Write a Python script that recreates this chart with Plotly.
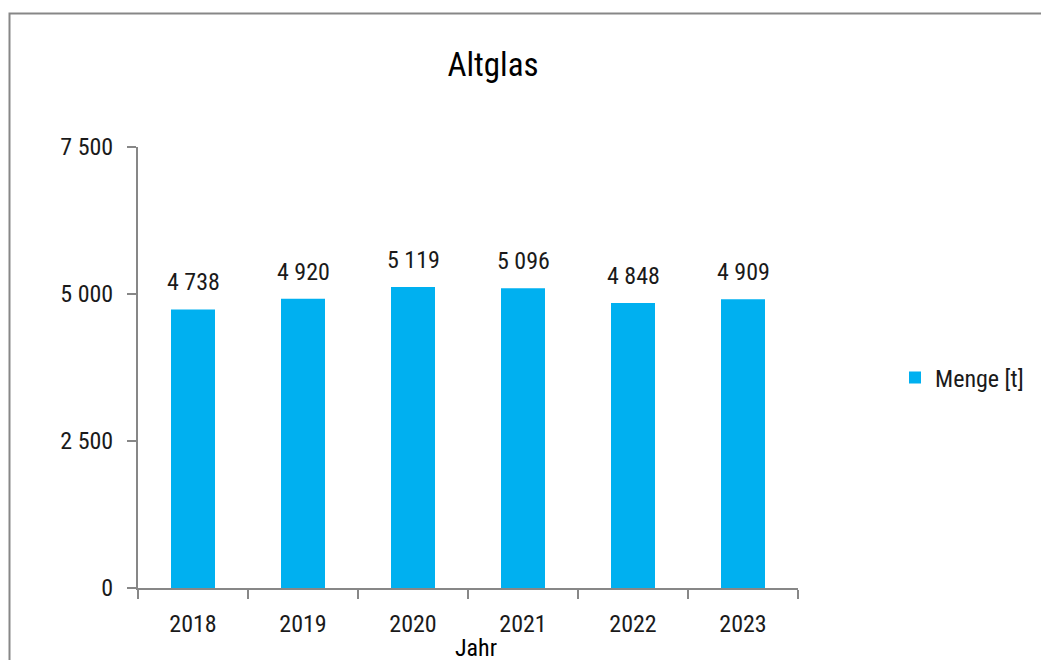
import plotly.graph_objects as go

years = ["2018", "2019", "2020", "2021", "2022", "2023"]
menge = [4738, 4920, 5119, 5096, 4848, 4909]
y_ticks = [0, 2500, 5000, 7500]

FONT = "Roboto Condensed, Liberation Sans Narrow, sans-serif"
BAR = "#00B0F0"
AXIS = "#878787"
TXT = "#1a1a1a"

W, H = 1041, 660
L, R, T, B = 138, 798, 147, 588

def px(sx):
    return (sx - L) / (R - L)

def py(sy):
    return (B - sy) / (B - T)

fig = go.Figure()
fig.add_trace(go.Bar(
    x=years, y=menge, name="Menge [t]",
    marker=dict(color=BAR, line=dict(width=0)),
    width=0.4,
    hoverinfo="skip",
))

annotations = []
for i, v in enumerate(menge):
    annotations.append(dict(
        x=i, y=v, xref="x", yref="y",
        text=f"{v:,}".replace(",", " "),
        showarrow=False, yanchor="bottom", yshift=11,
        font=dict(family=FONT, size=24, color=TXT),
    ))
annotations.append(dict(
    x=px(476), y=py(648), xref="paper", yref="paper",
    text="Jahr", showarrow=False, xanchor="center", yanchor="middle",
    font=dict(family=FONT, size=24, color="#000000"),
))

fig.update_layout(
    width=W, height=H,
    margin=dict(l=L, r=W - R, t=T, b=H - B, pad=0, autoexpand=False),
    paper_bgcolor="white", plot_bgcolor="white",
    separators=", ",
    font=dict(family=FONT, size=24, color=TXT),
    title=dict(text="Altglas", x=493 / W, xref="container", xanchor="center",
               y=1 - 64 / H, yanchor="middle", yref="container",
               font=dict(family=FONT, size=33, color="#000000")),
    showlegend=True,
    legend=dict(x=895 / W, y=1 - 378 / H, xref="container", yref="container",
                xanchor="left", yanchor="middle",
                font=dict(family=FONT, size=24, color=TXT),
                bgcolor="rgba(0,0,0,0)"),
    annotations=annotations,
    xaxis=dict(
        type="category", range=[-0.5, len(years) - 0.5],
        showgrid=False, zeroline=False,
        showline=True, linecolor=AXIS, linewidth=2,
        ticks="outside", ticklen=9, tickcolor=AXIS, tickwidth=2,
        tickson="boundaries", ticklabelstandoff=13, tickangle=0,
        tickfont=dict(family=FONT, size=24, color=TXT),
    ),
    yaxis=dict(
        range=[0, 7500], tickvals=y_ticks, separatethousands=True,
        tickformat=",d",
        showgrid=False, zeroline=False,
        showline=True, linecolor=AXIS, linewidth=2,
        ticks="outside", ticklen=9, tickcolor=AXIS, tickwidth=2,
        ticklabelstandoff=9,
        tickfont=dict(family=FONT, size=24, color=TXT),
    ),
    shapes=[dict(
        type="rect", xref="paper", yref="paper",
        x0=px(9.5), x1=px(1080), y0=py(700), y1=py(13.5),
        line=dict(color=AXIS, width=2), fillcolor="rgba(0,0,0,0)",
        layer="below",
    )],
)

fig.write_html(
    "out.html",
    config={"displayModeBar": False},
    post_script="document.body.style.margin='0';document.body.style.overflow='hidden';",
)
